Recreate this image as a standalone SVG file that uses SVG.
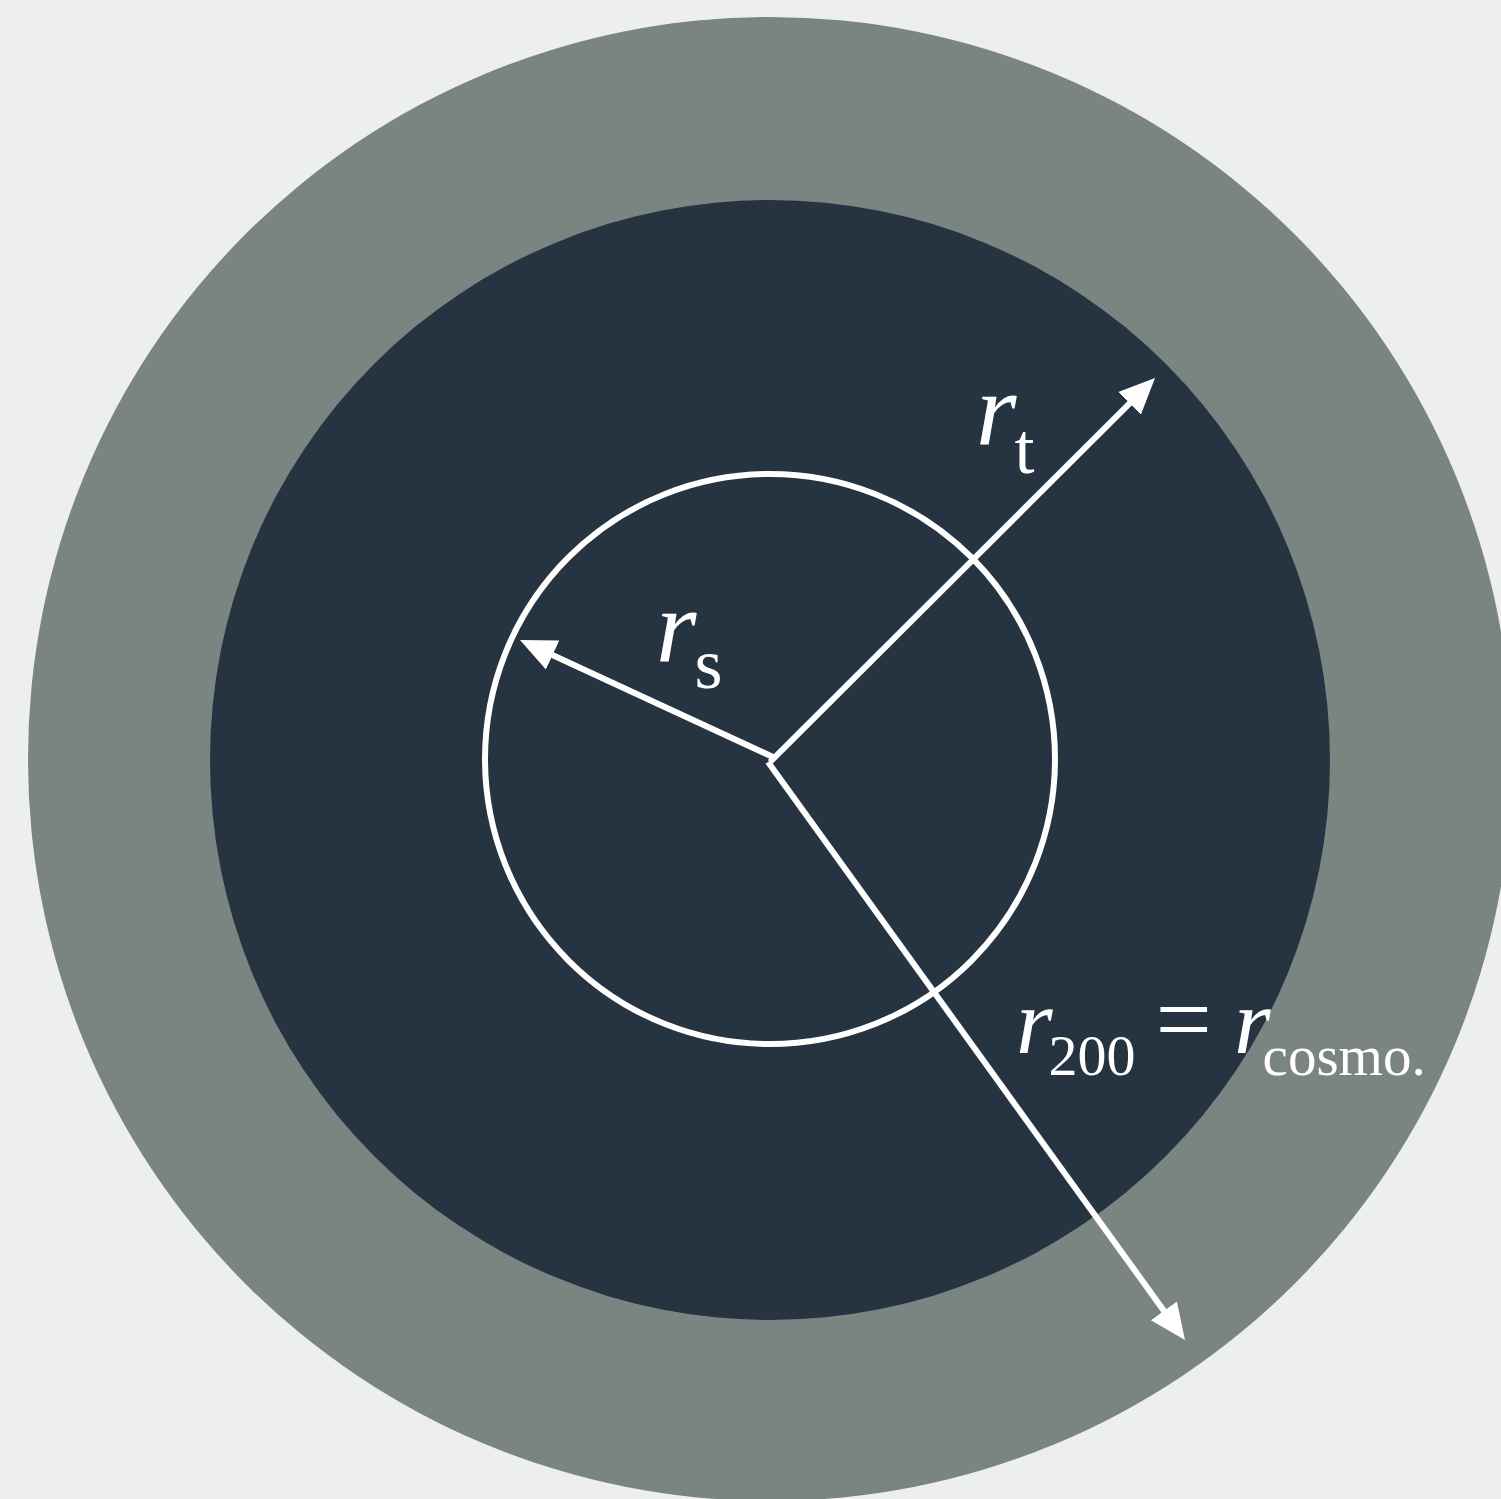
<svg xmlns="http://www.w3.org/2000/svg" width="1501" height="1499" viewBox="0 0 1501 1499">
<defs>
<style>
.lbl{font-family:"Liberation Serif","Times New Roman",serif;fill:#ffffff}
.it{font-style:italic}
.conn{stroke:#ffffff;stroke-width:6;fill:none}
</style>
<marker id="ah" markerUnits="userSpaceOnUse" markerWidth="38" markerHeight="34" viewBox="0 0 38 34" refX="20" refY="17" orient="auto">
<path d="M0,1 L36,17 L0,33 z" fill="#ffffff"/>
</marker>
</defs>
<rect width="1501" height="1499" fill="#edefee"/>
<g id="outer"><circle cx="770" cy="759" r="742" fill="#7a8582"/></g>
<g id="inner"><circle cx="770" cy="760" r="560" fill="#263341"/></g>
<g id="scale"><circle cx="770" cy="759" r="285" fill="none" stroke="#ffffff" stroke-width="6"/></g>
<g id="connectors">
<line class="conn" x1="770" y1="762" x2="1143.7" y2="389.3" marker-end="url(#ah)"/>
<line class="conn" x1="773" y1="757" x2="534.5" y2="646.7" marker-end="url(#ah)"/>
<line class="conn" x1="768" y1="762" x2="1175.6" y2="1327" marker-end="url(#ah)"/>
</g>
<g id="label-rt"><text class="lbl" x="976" y="445" font-size="104"><tspan class="it">r</tspan><tspan font-size="72" dy="28" dx="-2">t</tspan></text></g>
<g id="label-rs"><text class="lbl" x="656" y="662" font-size="104"><tspan class="it">r</tspan><tspan font-size="72" dy="26" dx="-2">s</tspan></text></g>
<g id="label-r200"><text class="lbl" x="1016" y="1053" font-size="94"><tspan class="it">r</tspan><tspan font-size="58" dy="22" dx="-4">200</tspan><tspan dy="-22" dx="20" font-size="100">=</tspan><tspan class="it" dx="22">r</tspan><tspan font-size="57" dy="22" dx="-8">cosmo.</tspan></text></g>
</svg>
